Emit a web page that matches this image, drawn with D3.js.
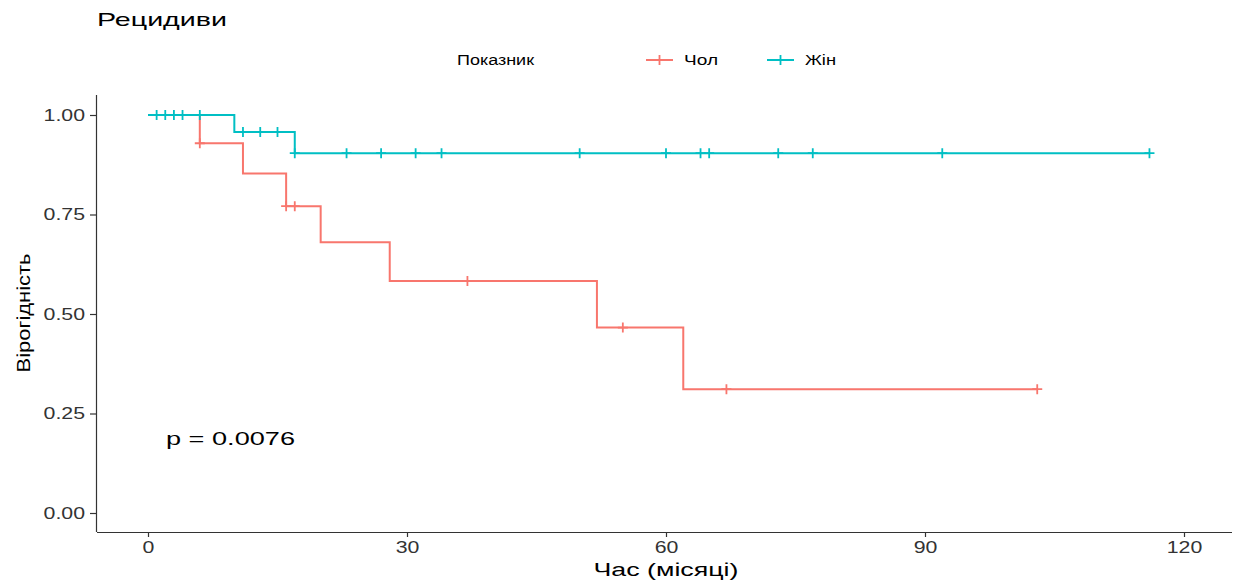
<!DOCTYPE html>
<html>
<head>
<meta charset="utf-8">
<script src="https://cdn.jsdelivr.net/npm/d3@7"></script>
<style>
  body { margin: 0; background: #fff; }
  text { font-family: "Liberation Sans", Arial, sans-serif; }
</style>
</head>
<body>
<div id="chart"></div>
<script>
// Kaplan-Meier steps
var groups = ["Чол", "Жін"];
var colors = ["#F8766D", "#00BFC4"];

var maleTimes = [0, 6, 11, 16, 20, 28, 52, 62, 103];
var maleSurv  = [1, 0.929, 0.853, 0.771, 0.68, 0.583, 0.466, 0.311, 0.311];
var maleCens  = [6, 16, 17, 37, 55, 67, 103];

var femaleTimes = [0, 10, 17, 116];
var femaleSurv  = [1, 0.957, 0.904, 0.904];
var femaleCens  = [1, 2, 3, 4, 6, 11, 13, 15, 17, 23, 27, 31, 34, 50, 60, 64, 65, 73, 77, 92, 116];

var xTicks = [0, 30, 60, 90, 120];
var yTicks = [0, 0.25, 0.5, 0.75, 1];

var width = 1236, height = 582;

var svg = d3.select("#chart")
    .append("svg")
    .attr("width", width)
    .attr("height", height)

var x = d3.scaleLinear().domain([0, 120]).range([148, 1184]);
var y = d3.scaleLinear().domain([0, 1]).range([513, 115]);

// the text in the picture looks stretched sideways
function stretch(sel, k) {
    sel.each(function() {
        var w = this.getComputedTextLength();
        d3.select(this).attr("textLength", w * k).attr("lengthAdjust", "spacingAndGlyphs");
    });
}

// survival value at a time (step function)
function survAt(times, surv, t) {
    var v = surv[0];
    for (var i = 0; i < times.length; i++) if (times[i] <= t) v = surv[i];
    return v;
}

var series = [
    {times: maleTimes, surv: maleSurv, cens: maleCens, color: colors[0]},
    {times: femaleTimes, surv: femaleSurv, cens: femaleCens, color: colors[1]}
];

// axes
var xAxis = svg.append("g")
    .attr("transform", "translate(0,532)")
    .call(d3.axisBottom(x).tickValues(xTicks).tickSize(5).tickPadding(5));
xAxis.select(".domain").attr("d", "M97,0.5H1232");

var yAxis = svg.append("g")
    .attr("transform", "translate(96,0)")
    .call(d3.axisLeft(y).tickValues(yTicks).tickFormat(d3.format(".2f")).tickSize(6).tickPadding(5));
yAxis.select(".domain").attr("d", "M0.5,95V532");

svg.selectAll(".tick text").style("font-size", "16px").attr("fill", "#333");
stretch(svg.selectAll(".tick text"), 1.33);
svg.selectAll(".domain, .tick line").attr("stroke", "#333").attr("stroke-width", 1.2);

// curves
var line = d3.line()
    .x(function(d){ return x(d[0]); })
    .y(function(d){ return y(d[1]); })
    .curve(d3.curveStepAfter);

series.forEach(function(s) {
    var pts = s.times.map(function(t, i){ return [t, s.surv[i]]; });
    svg.append("path")
        .datum(pts)
        .attr("d", line)
        .attr("fill", "none")
        .attr("stroke", s.color)
        .attr("stroke-width", 2);

    svg.append("g").selectAll("path")
        .data(s.cens)
        .enter()
        .append("path")
        .attr("d", function(t) {
            var cx = x(t), cy = y(survAt(s.times, s.surv, t));
            return "M" + (cx - 5) + "," + cy + "H" + (cx + 5) + "M" + cx + "," + (cy - 5) + "V" + (cy + 5);
        })
        .attr("stroke", s.color)
        .attr("stroke-width", 1.8);
});

// p-value
svg.append("text")
    .attr("x", 166).attr("y", 445)
    .style("font-size", "18px")
    .attr("textLength", 129).attr("lengthAdjust", "spacingAndGlyphs")
    .text("p = 0.0076");

// title and axis titles
svg.append("text")
    .attr("x", 97).attr("y", 26)
    .style("font-size", "19px")
    .attr("textLength", 130).attr("lengthAdjust", "spacingAndGlyphs")
    .text("Рецидиви");

svg.append("text")
    .attr("x", 666).attr("y", 576)
    .attr("text-anchor", "middle")
    .style("font-size", "18px")
    .attr("textLength", 145).attr("lengthAdjust", "spacingAndGlyphs")
    .text("Час (місяці)");

svg.append("text")
    .attr("transform", "translate(30,313) rotate(-90)")
    .attr("text-anchor", "middle")
    .style("font-size", "18px")
    .attr("textLength", 119).attr("lengthAdjust", "spacingAndGlyphs")
    .text("Вірогідність");

// legend
var legend = svg.append("g");
legend.append("text")
    .attr("x", 457).attr("y", 65)
    .style("font-size", "14px")
    .attr("textLength", 77).attr("lengthAdjust", "spacingAndGlyphs")
    .text("Показник");

var legX = [646, 767];
var legW = [34, 31];
groups.forEach(function(g, i) {
    var lx = legX[i];
    legend.append("line")
        .attr("x1", lx).attr("x2", lx + 27).attr("y1", 60).attr("y2", 60)
        .attr("stroke", colors[i]).attr("stroke-width", 2);
    legend.append("path")
        .attr("d", "M" + (lx + 8.5) + ",60H" + (lx + 18.5) + "M" + (lx + 13.5) + ",55V65")
        .attr("stroke", colors[i]).attr("stroke-width", 1.8);
    legend.append("text")
        .attr("x", lx + 38).attr("y", 65)
        .style("font-size", "14px")
        .attr("textLength", legW[i]).attr("lengthAdjust", "spacingAndGlyphs")
        .text(g);
});
</script>
</body>
</html>
